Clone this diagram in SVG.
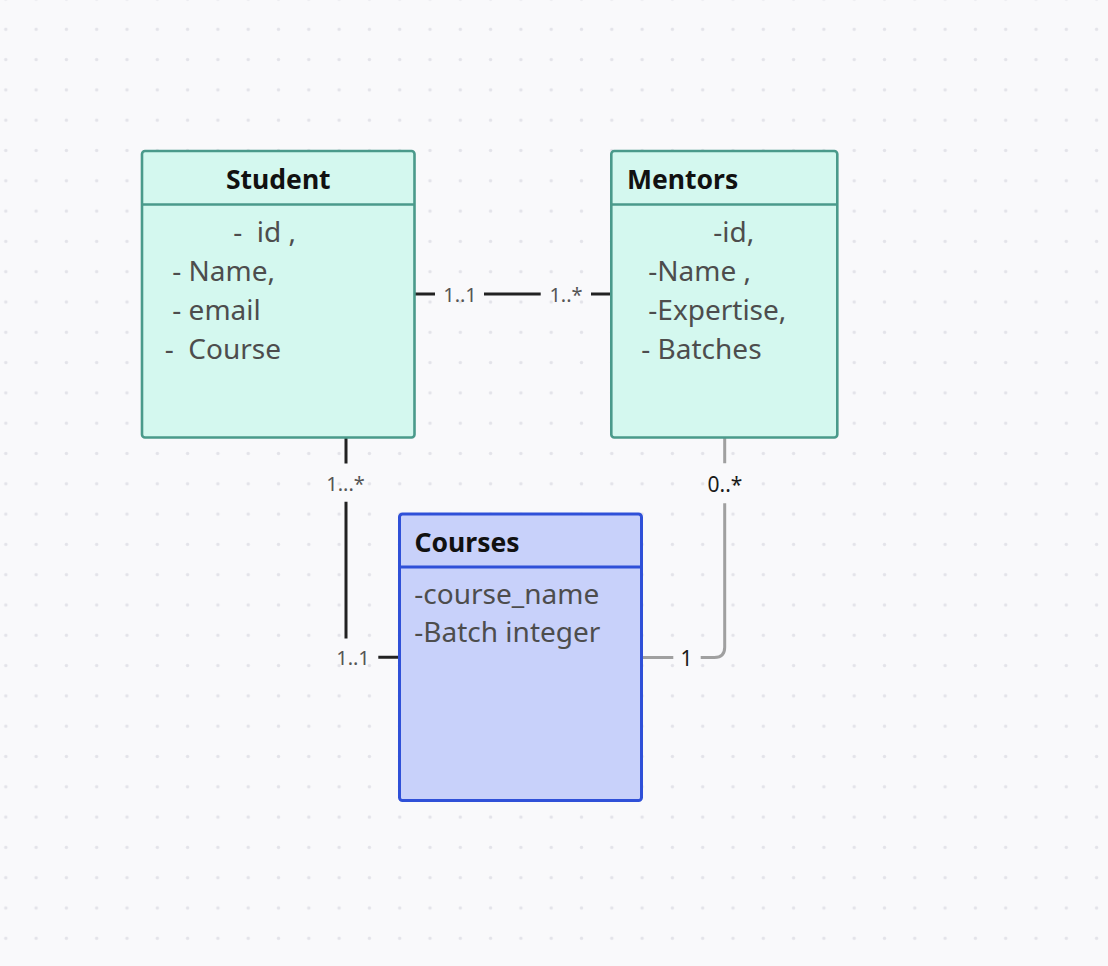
<svg xmlns="http://www.w3.org/2000/svg" width="1108" height="966" viewBox="0 0 1108 966">
  <defs>
    <pattern id="dots" patternUnits="userSpaceOnUse" x="-9.35" y="-16.15" width="30.3" height="30.3">
      <circle cx="15.15" cy="15.15" r="1.7" fill="#e3e3e9"/>
    </pattern>
    <style>
      .title { font-family: "Noto Sans", "Open Sans", sans-serif; font-size: 26.5px; font-weight: 700; fill: #111111; }
      .attr { font-family: "Noto Sans", "Open Sans", sans-serif; font-size: 28px; fill: #4d4d4d; white-space: pre; }
      .lbl { font-family: "Noto Sans", "Open Sans", sans-serif; font-size: 20px; fill: #555555; text-anchor: middle; }
      .lbl2 { font-family: "Noto Sans", "Open Sans", sans-serif; font-size: 21px; fill: #1a1a1a; text-anchor: middle; }
      .teal { fill: #d4f8ef; stroke: #4a9a8b; stroke-width: 2.6; }
      .tealdiv { stroke: #4a9a8b; stroke-width: 2.6; }
      .blue { fill: #c8d1fa; stroke: #2f50d8; stroke-width: 3; }
      .bluediv { stroke: #2f50d8; stroke-width: 3; }
      .dark { fill: none; stroke: #222222; stroke-width: 3; }
      .grey { fill: none; stroke: #a0a0a0; stroke-width: 3; }
    </style>
  </defs>
  <rect x="0" y="0" width="1108" height="966" fill="#f9f9fb"/>
  <rect x="0" y="0" width="1108" height="966" fill="url(#dots)"/>

  <g id="connectors">
    <!-- Student - Mentors -->
    <path class="dark" d="M415 294 H435 M484 294 H540.7 M591 294 H611"/>
    <!-- Student - Courses -->
    <path class="dark" d="M346 438 V463.5 M346 501.7 V638.5 M378.3 657.3 H399"/>
    <!-- Mentors - Courses -->
    <path class="grey" d="M724.7 438 V463.3 M724.7 503.3 V647.3 Q724.7 657.5 714.5 657.5 H700.7 M673.3 657.5 H642"/>
    <text class="lbl" x="460" y="302">1..1</text>
    <text class="lbl" x="566" y="302">1..*</text>
    <text class="lbl" x="345.5" y="491">1...*</text>
    <text class="lbl" x="353" y="665">1..1</text>
    <text class="lbl2" x="725" y="492">0..*</text>
    <text class="lbl2" x="686.5" y="666">1</text>
  </g>

  <g id="student">
    <rect class="teal" x="142" y="151" width="272.5" height="286.5" rx="3"/>
    <line class="tealdiv" x1="142" y1="204.5" x2="414.5" y2="204.5"/>
    <text class="title" x="278.3" y="189" text-anchor="middle">Student</text>
    <text class="attr" x="233.3" y="242" xml:space="preserve">-  id ,</text>
    <text class="attr" x="172.3" y="281" xml:space="preserve">- Name,</text>
    <text class="attr" x="172.3" y="320" xml:space="preserve">- email</text>
    <text class="attr" x="164.7" y="359" xml:space="preserve">-  Course</text>
  </g>

  <g id="mentors">
    <rect class="teal" x="611.3" y="151" width="226" height="286.5" rx="3"/>
    <line class="tealdiv" x1="611.3" y1="204.5" x2="837.3" y2="204.5"/>
    <text class="title" x="627" y="189">Mentors</text>
    <text class="attr" x="713.3" y="242" xml:space="preserve">-id,</text>
    <text class="attr" x="648.3" y="281" xml:space="preserve">-Name ,</text>
    <text class="attr" x="648.3" y="320" xml:space="preserve">-Expertise,</text>
    <text class="attr" x="641.3" y="359" xml:space="preserve">- Batches</text>
  </g>

  <g id="courses">
    <rect class="blue" x="399.5" y="514" width="242" height="286.5" rx="3"/>
    <line class="bluediv" x1="399.5" y1="567" x2="641.5" y2="567"/>
    <text class="title" x="414.5" y="552">Courses</text>
    <text class="attr" x="414.3" y="604" xml:space="preserve">-course_name</text>
    <text class="attr" x="414.3" y="642" xml:space="preserve">-Batch integer</text>
  </g>
</svg>
